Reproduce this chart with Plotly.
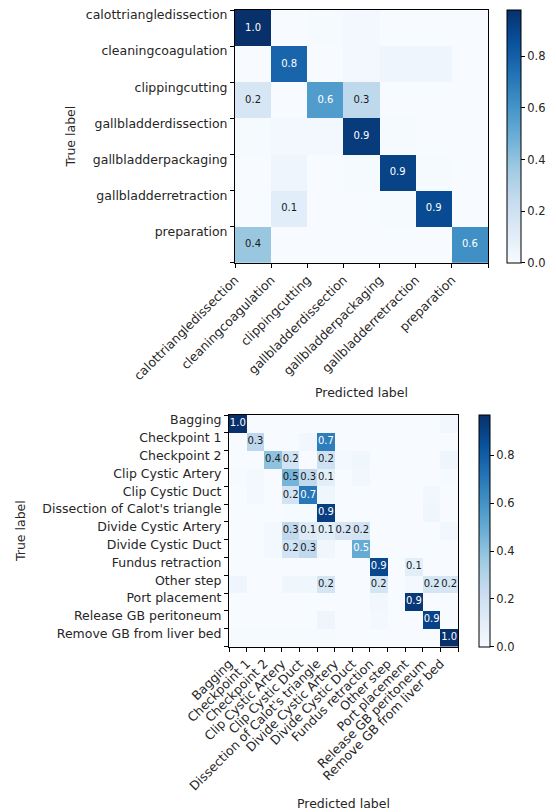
import plotly.graph_objects as go

# ---------------- data ----------------
labels_a = ["calottriangledissection", "cleaningcoagulation", "clippingcutting",
            "gallbladderdissection", "gallbladderpackaging", "gallbladderretraction",
            "preparation"]
cm_a = [
    [0.98, 0.00, 0.01, 0.02, 0.00, 0.00, 0.00],
    [0.00, 0.78, 0.00, 0.02, 0.045, 0.045, 0.00],
    [0.16, 0.00, 0.57, 0.27, 0.00, 0.00, 0.00],
    [0.01, 0.02, 0.02, 0.94, 0.01, 0.00, 0.00],
    [0.00, 0.045, 0.00, 0.01, 0.91, 0.01, 0.00],
    [0.00, 0.11, 0.00, 0.00, 0.01, 0.88, 0.00],
    [0.38, 0.00, 0.00, 0.00, 0.00, 0.00, 0.62],
]

labels_b = ["Bagging", "Checkpoint 1", "Checkpoint 2", "Clip Cystic Artery",
            "Clip Cystic Duct", "Dissection of Calot's triangle", "Divide Cystic Artery",
            "Divide Cystic Duct", "Fundus retraction", "Other step", "Port placement",
            "Release GB peritoneum", "Remove GB from liver bed"]
cm_b = [
    [0.97, 0, 0, 0, 0, 0, 0, 0, 0, 0, 0, 0, 0.03],
    [0, 0.27, 0, 0, 0.03, 0.68, 0, 0, 0, 0, 0, 0, 0],
    [0, 0, 0.40, 0.18, 0, 0.20, 0.02, 0.04, 0, 0, 0, 0, 0.045],
    [0.01, 0.02, 0, 0.46, 0.26, 0.10, 0, 0.03, 0, 0, 0, 0, 0.01],
    [0, 0.02, 0, 0.18, 0.70, 0.04, 0, 0, 0, 0, 0, 0.03, 0],
    [0, 0, 0, 0.01, 0.01, 0.92, 0, 0, 0, 0, 0, 0.04, 0],
    [0, 0, 0.02, 0.26, 0.12, 0.10, 0.16, 0.18, 0, 0, 0, 0, 0.03],
    [0, 0, 0.02, 0.18, 0.26, 0.04, 0, 0.50, 0, 0, 0, 0, 0],
    [0, 0, 0, 0, 0, 0, 0, 0, 0.88, 0, 0.10, 0, 0],
    [0.045, 0, 0, 0.04, 0.04, 0.17, 0, 0, 0.17, 0, 0.02, 0.17, 0.16],
    [0, 0, 0, 0, 0, 0, 0, 0, 0.03, 0, 0.94, 0, 0],
    [0, 0, 0, 0, 0, 0.045, 0, 0, 0.02, 0, 0, 0.90, 0],
    [0.01, 0.01, 0.01, 0.01, 0.01, 0.01, 0, 0, 0, 0, 0, 0, 0.97],
]

colorbar_ticks = [0.0, 0.2, 0.4, 0.6, 0.8]

# ---------------- style ----------------
FONT = "DejaVu Sans"
TXT = "#262626"
blues = ['rgb(247,251,255)', 'rgb(222,235,247)', 'rgb(198,219,239)', 'rgb(158,202,225)',
         'rgb(107,174,214)', 'rgb(66,146,198)', 'rgb(33,113,181)', 'rgb(8,81,156)',
         'rgb(8,48,107)']
cscale = [[i / (len(blues) - 1), c] for i, c in enumerate(blues)]

# the page body has an 8px margin; the figure is placed at (8, 8) in the window
OFF = 8
W, H = 556 - OFF, 812 - OFF


def fx(px):
    return (px - OFF) / W


def fy(py):
    return 1 - (py - OFF) / H


fig = go.Figure()


def add_matrix(cm, labels, xa, ya, dom_x, dom_y, cb):
    n = len(labels)
    vmax = max(max(r) for r in cm)
    fig.add_trace(go.Heatmap(
        z=cm, x=list(range(n)), y=list(range(n)),
        colorscale=cscale, zmin=0, zmax=vmax,
        xaxis=xa, yaxis=ya, hoverinfo="skip", xgap=0, ygap=0,
        colorbar=cb,
    ))
    tx, ty, tt, tc = [], [], [], []
    for i in range(n):
        for j in range(n):
            v = cm[i][j]
            if v >= 0.05:
                tx.append(j)
                ty.append(i)
                tt.append(f"{v:.1f}")
                tc.append("white" if v > vmax / 2 else "#1a1a1a")
    fig.add_trace(go.Scatter(
        x=tx, y=ty, text=tt, mode="text", xaxis=xa, yaxis=ya,
        textfont=dict(family=FONT, size=10, color=tc),
        hoverinfo="skip", showlegend=False,
    ))
    tickvals = [k - 0.5 for k in range(n + 1)]
    ticktext = labels + [""]
    xkey = "xaxis" + xa[1:]
    ykey = "yaxis" + ya[1:]
    fig.update_layout(**{
        xkey: dict(domain=dom_x, range=[-0.5, n - 0.5], tickvals=tickvals, ticktext=ticktext,
                   tickangle=-45, ticks="outside", ticklen=4, tickcolor="black",
                   showline=True, mirror=True, linecolor="black", linewidth=1,
                   showgrid=False, zeroline=False, anchor=ya, automargin=False,
                   ticklabeloverflow="allow",
                   tickfont=dict(family=FONT, size=12.5, color=TXT)),
        ykey: dict(domain=dom_y, range=[n - 0.5, -0.5], tickvals=tickvals, ticktext=ticktext,
                   ticks="outside", ticklen=4, tickcolor="black",
                   showline=True, mirror=True, linecolor="black", linewidth=1,
                   showgrid=False, zeroline=False, anchor=xa, automargin=False,
                   ticklabelshift=-5, ticklabeloverflow="allow",
                   tickfont=dict(family=FONT, size=12.5, color=TXT)),
    })


def cbar(x_px, y0_px, y1_px, thick):
    return dict(
        x=fx(x_px), xanchor="left", xpad=0, ypad=0,
        y=(fy(y0_px) + fy(y1_px)) / 2, yanchor="middle",
        len=(y1_px - y0_px) / H, lenmode="fraction",
        thickness=thick, outlinewidth=1, outlinecolor="black",
        tickvals=colorbar_ticks, ticktext=[f"{t:.1f}" for t in colorbar_ticks],
        ticks="outside", ticklen=4, tickcolor="black",
        tickfont=dict(family=FONT, size=11.5, color=TXT),
    )


add_matrix(cm_a, labels_a, "x", "y",
           [fx(235), fx(488)], [fy(262.7), fy(10)],
           cbar(507, 10, 262.7, 14))
add_matrix(cm_b, labels_b, "x2", "y2",
           [fx(229), fx(458)], [fy(646.5), fy(415)],
           cbar(479, 415, 646.5, 11))

ann = []
for text, xp, yp, ang in [("True label", 70, 136.5, -90), ("Predicted label", 361.5, 392, 0),
                          ("True label", 20, 531, -90), ("Predicted label", 343.5, 803, 0)]:
    ann.append(dict(text=text, x=fx(xp), y=fy(yp), xref="paper", yref="paper",
                    showarrow=False, textangle=ang, xanchor="center", yanchor="middle",
                    font=dict(family=FONT, size=12.5, color=TXT)))

fig.update_layout(
    template="none",
    width=W, height=H, autosize=False,
    margin=dict(l=0, r=0, t=0, b=0, pad=0),
    paper_bgcolor="white", plot_bgcolor="white",
    showlegend=False, annotations=ann,
    font=dict(family=FONT, color=TXT),
)

fig.write_html("out.html")
